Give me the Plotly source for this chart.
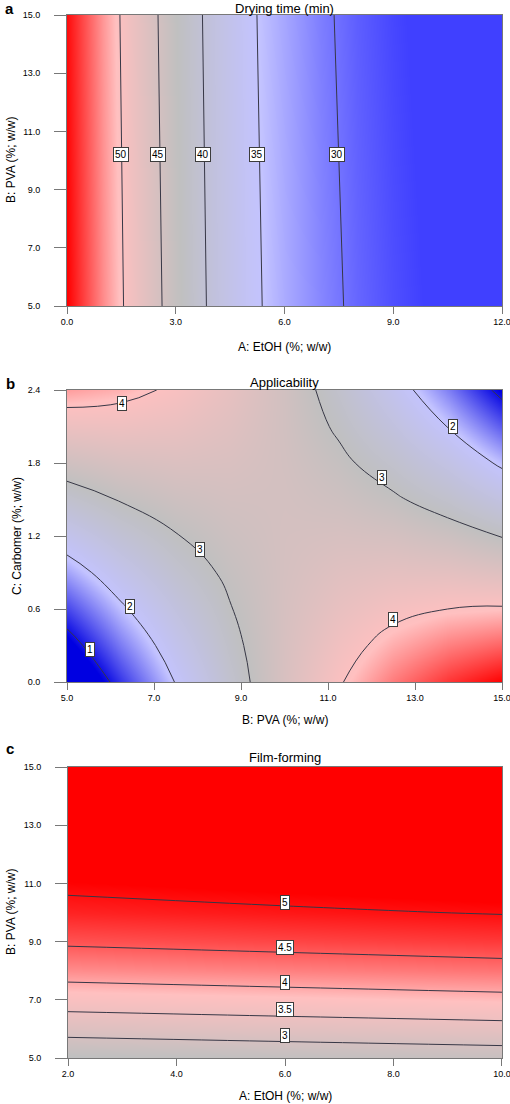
import plotly.graph_objects as go

# ---------------- Panel a: Drying time (min) ----------------
a_etoh = [0, 1, 2, 3, 4, 5, 6, 7, 8, 9, 10, 11, 12]
a_pva = [5.0, 15.0]
a_time = [
    [58.5, 52.8, 47.8, 43.3, 39.4, 36.0, 33.4, 31.2, 29.3, 27.9, 26.8, 26.0, 25.5],
    [58.0, 52.3, 47.3, 42.8, 39.0, 35.6, 33.1, 30.7, 28.8, 27.4, 26.3, 25.5, 25.0],
]
a_label_x = [1.5, 2.52, 3.74, 5.23, 7.45]
a_label_y = [10.19, 10.19, 10.19, 10.19, 10.19]
a_label_text = ["50", "45", "40", "35", "30"]

# ---------------- Panel b: Applicability ----------------
b_pva = [5.0, 6.25, 7.5, 8.75, 10.0, 11.25, 12.5, 13.75, 15.0]
b_carbomer = [0.0, 0.3, 0.6, 0.9, 1.2, 1.5, 1.8, 2.1, 2.4]
b_score = [
    [0.28, 1.19, 2.02, 2.76, 3.41, 3.96, 4.43, 4.81, 5.10],
    [0.77, 1.56, 2.26, 2.87, 3.39, 3.82, 4.16, 4.41, 4.57],
    [1.27, 1.93, 2.50, 2.98, 3.37, 3.67, 3.88, 4.00, 4.04],
    [1.76, 2.29, 2.74, 3.09, 3.35, 3.53, 3.61, 3.60, 3.51],
    [2.26, 2.66, 2.98, 3.20, 3.34, 3.38, 3.34, 3.20, 2.98],
    [2.75, 3.03, 3.21, 3.31, 3.32, 3.23, 3.06, 2.80, 2.45],
    [3.25, 3.39, 3.45, 3.42, 3.30, 3.09, 2.79, 2.40, 1.92],
    [3.74, 3.76, 3.69, 3.53, 3.28, 2.94, 2.51, 1.99, 1.39],
    [4.24, 4.13, 3.93, 3.64, 3.27, 2.80, 2.24, 1.59, 0.86],
]
b_label_x = [6.26, 8.06, 6.45, 5.53, 12.23, 13.88, 12.5]
b_label_y = [2.29, 1.09, 0.62, 0.27, 1.68, 2.10, 0.515]
b_label_text = ["4", "3", "2", "1", "3", "2", "4"]

# ---------------- Panel c: Film-forming ----------------
c_etoh = [2.0, 6.0, 10.0]
c_pva = [5, 6, 7, 8, 9, 10, 11, 12, 13, 14, 15]
c_score = [
    [2.56, 2.65, 2.74],
    [3.18, 3.27, 3.35],
    [3.72, 3.80, 3.88],
    [4.18, 4.26, 4.34],
    [4.56, 4.64, 4.72],
    [4.87, 4.95, 5.02],
    [5.09, 5.17, 5.25],
    [5.24, 5.32, 5.40],
    [5.31, 5.40, 5.48],
    [5.30, 5.39, 5.48],
    [5.21, 5.31, 5.40],
]
c_label_x = [6.0, 6.0, 6.0, 6.0, 6.0]
c_label_y = [10.35, 8.79, 7.61, 6.65, 5.79]
c_label_text = ["5", "4.5", "4", "3.5", "3"]


def make_scale(low):
    return [
        [0.0, low],
        [0.25, "rgb(195,195,255)"],
        [0.5, "rgb(192,192,192)"],
        [0.75, "rgb(255,192,192)"],
        [1.0, "rgb(255,0,0)"],
    ]


FONT = "Liberation Sans, Arial, sans-serif"
W, H = 510, 1104


def px_x(p):
    return p / W


def px_y(p):
    return 1 - p / H


fig = go.Figure()

panels = [
    dict(x=a_etoh, y=a_pva, z=a_time, start=30, end=50, size=5, zmin=27.0, zmax=58.5,
         xa="x", ya="y", smooth=0.6, low="rgb(64,64,255)"),
    dict(x=b_pva, y=b_carbomer, z=b_score, start=1, end=4, size=1, zmin=0.9, zmax=5.1,
         xa="x2", ya="y2", smooth=1.3, low="rgb(0,0,225)"),
    dict(x=c_etoh, y=c_pva, z=c_score, start=3, end=5, size=0.5, zmin=0.1, zmax=5.1,
         xa="x3", ya="y3", smooth=0.8, low="rgb(0,0,225)"),
]

for p in panels:
    fig.add_trace(go.Contour(
        x=p["x"], y=p["y"], z=p["z"],
        xaxis=p["xa"], yaxis=p["ya"],
        colorscale=make_scale(p["low"]), zmin=p["zmin"], zmax=p["zmax"], zauto=False,
        autocontour=False,
        contours=dict(start=p["start"], end=p["end"], size=p["size"],
                      coloring="heatmap", showlabels=False),
        line=dict(color="rgb(55,55,70)", width=1, smoothing=p["smooth"]),
        showscale=False, hoverinfo="skip",
    ))

# axis domains from pixel layout
xdom_ab = [px_x(67), px_x(502)]
xdom_c = [px_x(68), px_x(502)]
ydom_a = [px_y(306), px_y(15)]
ydom_b = [px_y(682), px_y(390)]
ydom_c = [px_y(1058), px_y(767)]

tickfont = dict(family=FONT, size=9, color="black")
titlefont = dict(family=FONT, size=12, color="black")


def xaxis(dom, rng, dtick, anchor):
    return dict(domain=dom, range=rng, dtick=dtick, tick0=rng[0], tickformat=".1f",
                ticks="outside", ticklen=7, tickcolor="rgb(120,120,120)",
                showline=True, linecolor="rgb(120,120,120)", mirror=True,
                showgrid=False, zeroline=False, tickfont=tickfont,
                ticklabeloverflow="allow", automargin=False, anchor=anchor)


def yaxis(dom, rng, dtick, anchor):
    return dict(domain=dom, range=rng, dtick=dtick, tick0=rng[0], tickformat=".1f",
                ticks="outside", ticklen=12, tickcolor="rgb(120,120,120)",
                ticklabelstandoff=12,
                showline=True, linecolor="rgb(120,120,120)", mirror=True,
                showgrid=False, zeroline=False, tickfont=tickfont,
                ticklabeloverflow="allow", automargin=False, anchor=anchor)


fig.update_layout(
    width=W, height=H, margin=dict(l=0, r=0, t=0, b=0),
    paper_bgcolor="white", plot_bgcolor="white", showlegend=False,
    font=dict(family=FONT),
    xaxis=xaxis(xdom_ab, [0, 12.0001], 3, "y"),
    yaxis=yaxis(ydom_a, [5, 15.0001], 2, "x"),
    xaxis2=xaxis(xdom_ab, [5, 15.0001], 2, "y2"),
    yaxis2=yaxis(ydom_b, [0, 2.40001], 0.6, "x2"),
    xaxis3=xaxis(xdom_c, [2, 10.0001], 2, "y3"),
    yaxis3=yaxis(ydom_c, [5, 15.0001], 2, "x3"),
)

annotations = []
# contour labels
for lx, ly, lt, xr, yr in (
    [(x, y, t, "x", "y") for x, y, t in zip(a_label_x, a_label_y, a_label_text)]
    + [(x, y, t, "x2", "y2") for x, y, t in zip(b_label_x, b_label_y, b_label_text)]
    + [(x, y, t, "x3", "y3") for x, y, t in zip(c_label_x, c_label_y, c_label_text)]
):
    annotations.append(dict(
        x=lx, y=ly, xref=xr, yref=yr, text=lt, showarrow=False,
        font=dict(family=FONT, size=10, color="black"),
        bgcolor="white", bordercolor="rgb(60,60,60)", borderwidth=1, borderpad=1,
    ))

# panel titles
for text, cx, cy in (("Drying time (min)", 284.5, 8), ("Applicability", 284.5, 382),
                     ("Film-forming", 285, 757)):
    annotations.append(dict(x=px_x(cx), y=px_y(cy), xref="paper", yref="paper",
                            text=text, showarrow=False, xanchor="center", yanchor="middle",
                            font=dict(family=FONT, size=13, color="black")))
# panel letters
for text, cx, cy in (("a", 9, 8), ("b", 10, 383), ("c", 10, 748)):
    annotations.append(dict(x=px_x(cx), y=px_y(cy), xref="paper", yref="paper",
                            text="<b>" + text + "</b>", showarrow=False,
                            xanchor="center", yanchor="middle",
                            font=dict(family=FONT, size=15, color="black")))
# x axis titles
for text, cx, cy in (("A: EtOH (%; w/w)", 284.5, 347), ("B: PVA (%; w/w)", 284.5, 720),
                     ("A: EtOH (%; w/w)", 285, 1096)):
    annotations.append(dict(x=px_x(cx), y=px_y(cy), xref="paper", yref="paper",
                            text=text, showarrow=False, xanchor="center", yanchor="middle",
                            font=titlefont))
# y axis titles
for text, cx, cy in (("B: PVA (%; w/w)", 11, 160), ("C: Carbomer (%; w/w)", 17, 536),
                     ("B: PVA (%; w/w)", 11, 912)):
    annotations.append(dict(x=px_x(cx), y=px_y(cy), xref="paper", yref="paper",
                            text=text, showarrow=False, xanchor="center", yanchor="middle",
                            textangle=-90, font=titlefont))

fig.update_layout(annotations=annotations)
fig.write_html("out.html",
               config={"displayModeBar": False},
               post_script="document.body.style.margin='0';"
                           "document.body.style.overflow='hidden';")
